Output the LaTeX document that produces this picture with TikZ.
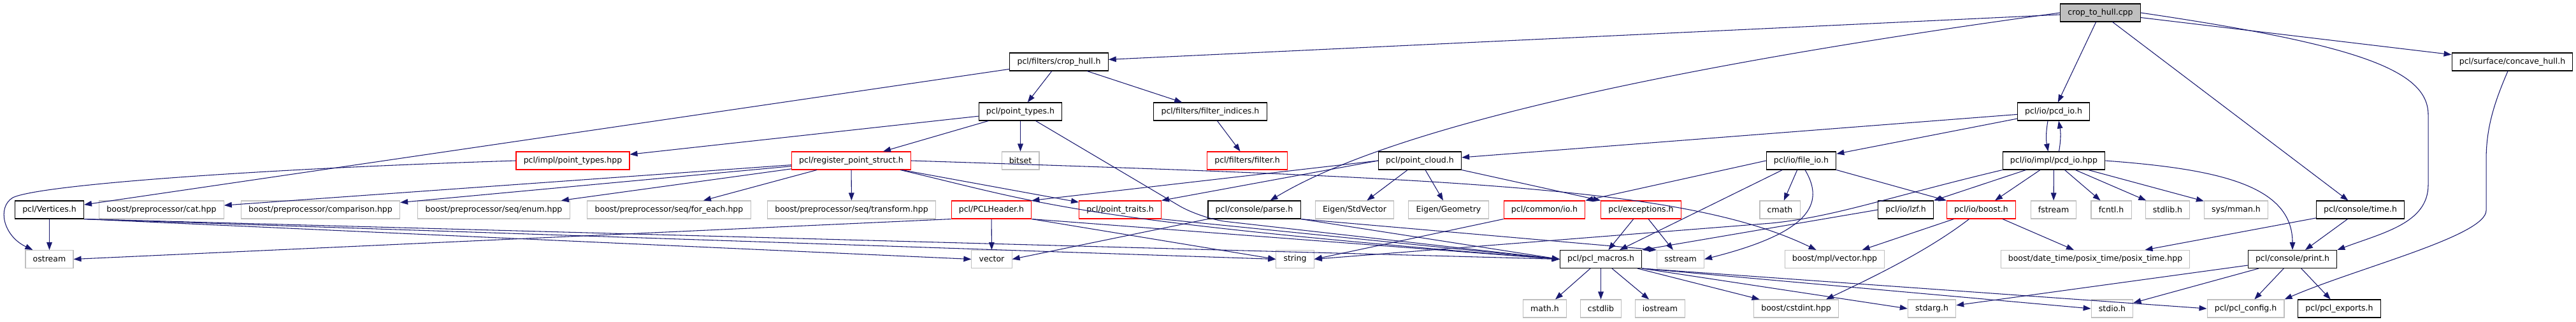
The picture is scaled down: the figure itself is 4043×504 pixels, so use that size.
\documentclass[tikz,border=0pt]{standalone}
\usepackage{fontspec}
\setmainfont{DejaVu Sans}
\usetikzlibrary{arrows.meta,calc}
\definecolor{edgeblue}{RGB}{25,25,112}
\definecolor{boxgray}{RGB}{191,191,191}
\definecolor{truncred}{RGB}{255,0,0}
\tikzset{
  file/.style={draw=black,line width=0.8pt,minimum height=21pt,inner xsep=8.8pt,inner ysep=0pt,font=\fontsize{9.4}{11}\selectfont},
  sysfile/.style={file,draw=boxgray},
  trunc/.style={file,draw=truncred},
  root/.style={file,fill=boxgray},
  inc/.style={draw=edgeblue,line width=0.8pt,-{Triangle[length=9pt,width=6.5pt]}}
}
\begin{document}
\begin{tikzpicture}[x=0.75pt,y=-0.75pt]
\useasboundingbox (0,0) rectangle (4043,504);

\node[root] (cpp) at (3296.5,20) {crop\_to\_hull.cpp};

\node[file] (crophull) at (1662,97) {pcl/filters/crop\_hull.h};
\node[file] (concave) at (3943,97) {pcl/surface/concave\_hull.h};

\node[file] (pointtypes) at (1601.5,175) {pcl/point\_types.h};
\node[file] (filtidx) at (1899.5,175) {pcl/filters/filter\_indices.h};
\node[file] (pcdio) at (3223,175) {pcl/io/pcd\_io.h};

\node[trunc] (ptimpl) at (899,252) {pcl/impl/point\_types.hpp};
\node[trunc] (regps) at (1336,252) {pcl/register\_point\_struct.h};
\node[sysfile] (bitset) at (1601.5,252) {bitset};
\node[trunc] (filter) at (1957.5,252) {pcl/filters/filter.h};
\node[file] (ptcloud) at (2228.5,252) {pcl/point\_cloud.h};
\node[file] (fileio) at (2827,252) {pcl/io/file\_io.h};
\node[file] (pcdimpl) at (3223.5,252) {pcl/io/impl/pcd\_io.hpp};

\node[file] (vertices) at (77.5,329) {pcl/Vertices.h};
\node[sysfile] (cat) at (253.5,329) {boost/preprocessor/cat.hpp};
\node[sysfile] (comparison) at (503,329) {boost/preprocessor/comparison.hpp};
\node[sysfile] (seqenum) at (775,329) {boost/preprocessor/seq/enum.hpp};
\node[sysfile] (foreach) at (1050,329) {boost/preprocessor/seq/for\_each.hpp};
\node[sysfile] (transform) at (1336.5,329) {boost/preprocessor/seq/transform.hpp};
\node[trunc] (pclheader) at (1556,329) {pcl/PCLHeader.h};
\node[trunc] (traits) at (1758,329) {pcl/point\_traits.h};
\node[file] (parse) at (1968.5,329) {pcl/console/parse.h};
\node[sysfile] (stdvector) at (2126,329) {Eigen/StdVector};
\node[sysfile] (geometry) at (2273.5,329) {Eigen/Geometry};
\node[trunc] (commonio) at (2424,329) {pcl/common/io.h};
\node[trunc] (exceptions) at (2575.5,329) {pcl/exceptions.h};
\node[sysfile] (cmath) at (2793.5,329) {cmath};
\node[file] (lzf) at (2991,329) {pcl/io/lzf.h};
\node[trunc] (ioboost) at (3109.5,329) {pcl/io/boost.h};
\node[sysfile] (fstream) at (3223,329) {fstream};
\node[sysfile] (fcntl) at (3313.5,329) {fcntl.h};
\node[sysfile] (stdlib) at (3402,329) {stdlib.h};
\node[sysfile] (mman) at (3509.5,329) {sys/mman.h};
\node[file] (time) at (3704.5,329) {pcl/console/time.h};

\node[sysfile] (ostream) at (77.5,406.5) {ostream};
\node[sysfile] (vector) at (1556.5,406.5) {vector};
\node[sysfile] (string) at (2032.5,406.5) {string};
\node[file] (macros) at (2512.5,406.5) {pcl/pcl\_macros.h};
\node[sysfile] (sstream) at (2637.5,406.5) {sstream};
\node[sysfile] (mplvector) at (2879.5,406.5) {boost/mpl/vector.hpp};
\node[sysfile] (posix) at (3288.5,406.5) {boost/date\_time/posix\_time/posix\_time.hpp};
\node[file] (print) at (3598,406.5) {pcl/console/print.h};

\node[sysfile] (mathh) at (2424.5,484) {math.h};
\node[sysfile] (cstdlib) at (2512.5,484) {cstdlib};
\node[sysfile] (iostream) at (2605.5,484) {iostream};
\node[sysfile] (cstdint) at (2819,484) {boost/cstdint.hpp};
\node[sysfile] (stdarg) at (3032,484) {stdarg.h};
\node[sysfile] (stdio) at (3315,484) {stdio.h};
\node[sysfile] (config) at (3524.5,484) {pcl/pcl\_config.h};
\node[file] (exports) at (3671.5,484) {pcl/pcl\_exports.h};

\draw[inc] (cpp) -- (crophull);
\draw[inc] (cpp.west) .. controls (2500,120) and (2150,220) .. ($(parse.north)+(25,0)$);
\draw[inc] (cpp) -- (pcdio);
\draw[inc] (cpp) -- (time);
\draw[inc] (cpp.east) .. controls (3700,70) and (3811,110) .. (3811,180) -- (3811,290) .. controls (3811,350) and (3740,365) .. (print.north east);
\draw[inc] (cpp) -- (concave);

\draw[inc] (crophull) -- (pointtypes);
\draw[inc] (crophull) -- (vertices);
\draw[inc] (crophull) -- (filtidx);
\draw[inc] (filtidx) -- (filter);
\draw[inc] (concave.south) ++(-7,0) .. controls (3915,160) and (3902,200) .. (3902,250) -- (3902,330) .. controls (3902,370) and (3700,420) .. (config.north east);

\draw[inc] (pointtypes) -- (ptimpl);
\draw[inc] (pointtypes) -- (regps);
\draw[inc] (pointtypes) -- (bitset);
\draw[inc,rounded corners=30pt] ($(pointtypes.south)+(24,0)$) -- (1885,343) -- (macros.west);
\draw[inc] (ptimpl.west) .. controls (400,265) and (60,290) .. (20,310) .. controls (-5,325) and (5,370) .. ($(ostream.north west)+(12,0)$);

\draw[inc] (regps) -- (cat);
\draw[inc] (regps) -- (comparison);
\draw[inc] (regps) -- (seqenum);
\draw[inc] (regps) -- (foreach);
\draw[inc] (regps) -- (transform);
\draw[inc] (regps) -- (traits);
\draw[inc] (regps.east) .. controls (2300,280) and (2650,295) .. ($(mplvector.north west)+(50,0)$);
\draw[inc] ($(regps.south east)+(-17,0)$) .. controls (1640,320) and (1680,345) .. (macros.west);

\draw[inc] (vertices) -- (ostream);
\draw[inc] (vertices.south east) -- (vector.west);
\draw[inc] (vertices.south east) -- (string.west);
\draw[inc] (vertices.south east) -- (macros.west);

\draw[inc] (pclheader) -- (vector);
\draw[inc] (pclheader.south west) -- (ostream.east);
\draw[inc] (pclheader.south east) -- (string.west);
\draw[inc] (pclheader.south east) -- (macros.west);
\draw[inc] (traits.south east) -- (macros.west);

\draw[inc] (parse.south west) -- (vector.east);
\draw[inc] (parse.south east) -- (macros.west);
\draw[inc] (parse.south east) -- (sstream.north west);

\draw[inc] (ptcloud) -- (stdvector);
\draw[inc] (ptcloud) -- (geometry);
\draw[inc] (ptcloud.west) -- (pclheader.north east);
\draw[inc] (ptcloud.west) -- (traits.north east);
\draw[inc] (ptcloud.south east) -- (exceptions.north west);

\draw[inc] (commonio.south west) -- (string.east);
\draw[inc] (exceptions) -- (macros);
\draw[inc] (exceptions) -- (sstream);

\draw[inc] (pcdio) -- (ptcloud);
\draw[inc] (pcdio) -- (fileio);
\draw[inc] ($(pcdio.south)+(-9,0)$) to[bend right=10] ($(pcdimpl.north)+(-9,0)$);
\draw[inc] ($(pcdimpl.north)+(8,0)$) to[bend right=10] ($(pcdio.south)+(8,0)$);

\draw[inc] (fileio.west) -- (commonio.north east);
\draw[inc] (fileio) -- (cmath);
\draw[inc] (fileio) -- (macros);
\draw[inc] (fileio.south east) -- (ioboost.north west);
\draw[inc] ($(fileio.south)+(6,0)$) .. controls (2865,320) and (2840,365) .. (sstream.east);

\draw[inc] (pcdimpl) -- (fstream);
\draw[inc] (pcdimpl) -- (fcntl);
\draw[inc] (pcdimpl) -- (stdlib);
\draw[inc] (pcdimpl) -- (mman);
\draw[inc] (pcdimpl) -- (ioboost);
\draw[inc] (pcdimpl) -- (lzf);
\draw[inc] (pcdimpl.east) .. controls (3480,265) and (3598,290) .. (print.north);
\draw[inc] (pcdimpl.south west) .. controls (2960,310) and (2880,340) .. (2780,350) -- (string.east);

\draw[inc] (lzf.west) -- (macros.north east);
\draw[inc] (ioboost) -- (mplvector);
\draw[inc] ($(ioboost.south)+(-19,0)$) .. controls (3030,390) and (2950,430) .. ($(cstdint.north east)+(-20,0)$);
\draw[inc] (ioboost) -- (posix);

\draw[inc] (time) -- (print);
\draw[inc] (time) -- (posix);

\draw[inc] (print) -- (stdarg);
\draw[inc] (print) -- (stdio);
\draw[inc] (print) -- (config);
\draw[inc] (print) -- (exports);

\draw[inc] (macros) -- (mathh);
\draw[inc] (macros) -- (cstdlib);
\draw[inc] (macros) -- (iostream);
\draw[inc] (macros) -- (cstdint);
\draw[inc] (macros.south east) -- (stdarg.west);
\draw[inc] (macros.south east) -- (stdio.west);
\draw[inc] (macros.south east) -- (config.west);
\end{tikzpicture}
\end{document}
